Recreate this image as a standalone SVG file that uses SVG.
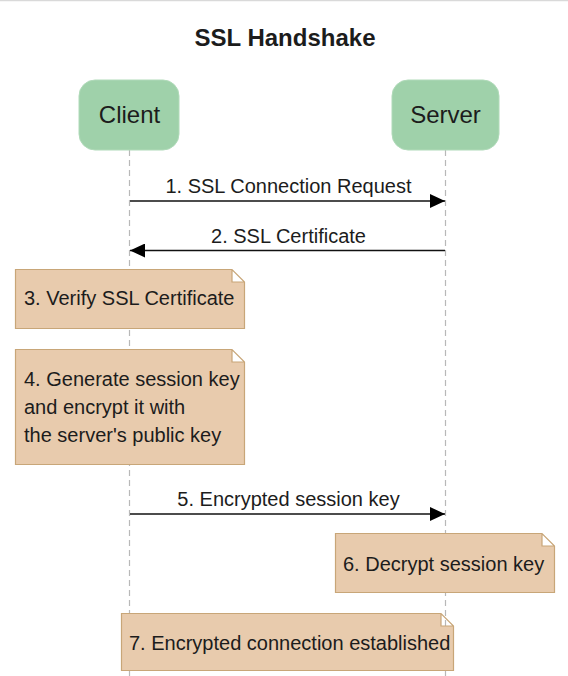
<svg xmlns="http://www.w3.org/2000/svg" width="568" height="676" viewBox="0 0 568 676">
<style>
  text { font-family: "Liberation Sans", Arial, sans-serif; fill: #1c1c1c; }
  .title { font-size: 24px; font-weight: bold; text-anchor: middle; }
  .actor rect { fill: #9fd1aa; stroke: #b0dab9; stroke-width: 1; }
  .actor text { font-size: 24px; text-anchor: middle; }
  .life { stroke: #b8b8b8; stroke-width: 1.2; stroke-dasharray: 6 4; fill: none; }
  .msg { stroke: #111; stroke-width: 1.5; fill: none; }
  .lbl { font-size: 20px; text-anchor: middle; }
  .note path { fill: #e8cbad; stroke: #c8a678; stroke-width: 1.2; }
  .note text { font-size: 20px; }
</style>
<defs>
  <marker id="arr" markerWidth="15" markerHeight="14" refX="15" refY="7" orient="auto" markerUnits="userSpaceOnUse">
    <path d="M0,0 L15,7 L0,14 Z" fill="#000"/>
  </marker>
</defs>
<rect x="0" y="0" width="568" height="676" fill="#ffffff"/>
<line x1="0" y1="0.5" x2="568" y2="0.5" stroke="#d9d9d9" stroke-width="1.5"/>
<text class="title" x="285" y="46">SSL Handshake</text>

<g id="lifelines">
  <line class="life" x1="129.5" y1="150" x2="129.5" y2="676"/>
  <line class="life" x1="445.5" y1="150" x2="445.5" y2="676"/>
</g>

<g id="client" class="actor">
  <rect x="79" y="80" width="100" height="70" rx="16" ry="16"/>
  <text x="129.5" y="123">Client</text>
</g>
<g id="server" class="actor">
  <rect x="392" y="80" width="107" height="70" rx="16" ry="16"/>
  <text x="445.5" y="123">Server</text>
</g>

<g id="connectors">
  <line class="msg" x1="130" y1="201" x2="445" y2="201" marker-end="url(#arr)"/>
  <text class="lbl" x="288.5" y="193">1. SSL Connection Request</text>
  <line class="msg" x1="445" y1="250.5" x2="130" y2="250.5" marker-end="url(#arr)"/>
  <text class="lbl" x="288.5" y="243">2. SSL Certificate</text>
  <line class="msg" x1="130" y1="514" x2="445" y2="514" marker-end="url(#arr)"/>
  <text class="lbl" x="288.5" y="506">5. Encrypted session key</text>
</g>

<g id="note3" class="note">
  <path d="M15.5,269.5 H232 L244.5,282 V328.5 H15.5 Z M232,269.5 V282 H244.5"/>
  <text x="24" y="305">3. Verify SSL Certificate</text>
</g>
<g id="note4" class="note">
  <path d="M15.5,349.5 H232 L244.5,362 V464.5 H15.5 Z M232,349.5 V362 H244.5"/>
  <text x="24" y="386">4. Generate session key</text>
  <text x="24" y="414">and encrypt it with</text>
  <text x="24" y="442">the server's public key</text>
</g>
<g id="note6" class="note">
  <path d="M335.5,533.5 H542 L554.5,546 V592.5 H335.5 Z M542,533.5 V546 H554.5"/>
  <text x="343" y="571">6. Decrypt session key</text>
</g>
<g id="note7" class="note">
  <path d="M121.5,613.5 H441 L453.5,626 V670.5 H121.5 Z M441,613.5 V626 H453.5"/>
  <text x="129" y="650">7. Encrypted connection established</text>
</g>
</svg>
